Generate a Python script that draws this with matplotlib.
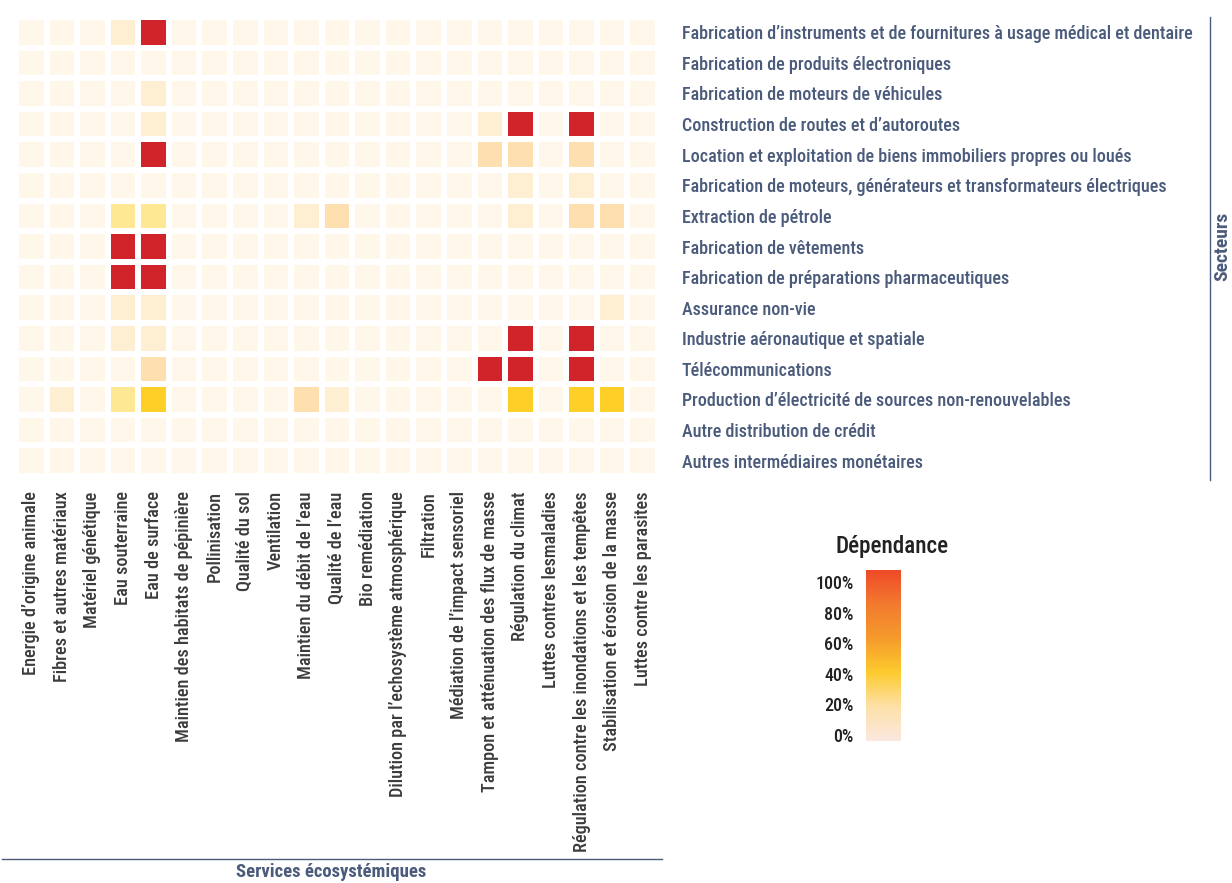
import matplotlib
matplotlib.use('Agg')
import numpy as np
import matplotlib.pyplot as plt
from matplotlib.colors import LinearSegmentedColormap, Normalize
from matplotlib.cm import ScalarMappable
from matplotlib import font_manager

# ============ DATA ============
secteurs = [
    "Fabrication d’instruments et de fournitures à usage médical et dentaire",
    "Fabrication de produits électroniques",
    "Fabrication de moteurs de véhicules",
    "Construction de routes et d’autoroutes",
    "Location et exploitation de biens immobiliers propres ou loués",
    "Fabrication de moteurs, générateurs et transformateurs électriques",
    "Extraction de pétrole",
    "Fabrication de vêtements",
    "Fabrication de préparations pharmaceutiques",
    "Assurance non-vie",
    "Industrie aéronautique et spatiale",
    "Télécommunications",
    "Production d’électricité de sources non-renouvelables",
    "Autre distribution de crédit",
    "Autres intermédiaires monétaires",
]

services = [
    "Energie d’origine animale",
    "Fibres et autres matériaux",
    "Matériel génétique",
    "Eau souterraine",
    "Eau de surface",
    "Maintien des habitats de pépinière",
    "Pollinisation",
    "Qualité du sol",
    "Ventilation",
    "Maintien du débit de l’eau",
    "Qualité de l’eau",
    "Bio remédiation",
    "Dilution par l’echosystème atmosphérique",
    "Filtration",
    "Médiation de l’impact sensoriel",
    "Tampon et atténuation des flux de masse",
    "Régulation du climat",
    "Luttes contres lesmaladies",
    "Régulation contre les inondations et les tempêtes",
    "Stabilisation et érosion de la masse",
    "Luttes contre les parasites",
]

# dependance (0..1), one row per sector, one column per service
dependance = [
    [0, 0, 0, .1, 1, 0, 0, 0, 0, 0, 0, 0, 0, 0, 0, 0, 0, 0, 0, 0, 0],
    [0, 0, 0, 0, 0, 0, 0, 0, 0, 0, 0, 0, 0, 0, 0, 0, 0, 0, 0, 0, 0],
    [0, 0, 0, 0, .1, 0, 0, 0, 0, 0, 0, 0, 0, 0, 0, 0, 0, 0, 0, 0, 0],
    [0, 0, 0, 0, .1, 0, 0, 0, 0, 0, 0, 0, 0, 0, 0, .1, 1, 0, 1, 0, 0],
    [0, 0, 0, 0, 1, 0, 0, 0, 0, 0, 0, 0, 0, 0, 0, .2, .2, 0, .2, 0, 0],
    [0, 0, 0, 0, 0, 0, 0, 0, 0, 0, 0, 0, 0, 0, 0, 0, .1, 0, .1, 0, 0],
    [0, 0, 0, .3, .3, 0, 0, 0, 0, .1, .2, 0, 0, 0, 0, 0, .1, 0, .2, .2, 0],
    [0, 0, 0, 1, 1, 0, 0, 0, 0, 0, 0, 0, 0, 0, 0, 0, 0, 0, 0, 0, 0],
    [0, 0, 0, 1, 1, 0, 0, 0, 0, 0, 0, 0, 0, 0, 0, 0, 0, 0, 0, 0, 0],
    [0, 0, 0, .1, .1, 0, 0, 0, 0, 0, 0, 0, 0, 0, 0, 0, 0, 0, 0, .1, 0],
    [0, 0, 0, .1, .1, 0, 0, 0, 0, 0, 0, 0, 0, 0, 0, 0, 1, 0, 1, 0, 0],
    [0, 0, 0, 0, .2, 0, 0, 0, 0, 0, 0, 0, 0, 0, 0, 1, 1, 0, 1, 0, 0],
    [0, .1, 0, .3, .45, 0, 0, 0, 0, .2, .1, 0, 0, 0, 0, 0, .45, 0, .45, .45, 0],
    [0, 0, 0, 0, 0, 0, 0, 0, 0, 0, 0, 0, 0, 0, 0, 0, 0, 0, 0, 0, 0],
    [0, 0, 0, 0, 0, 0, 0, 0, 0, 0, 0, 0, 0, 0, 0, 0, 0, 0, 0, 0, 0],
]

cbar_ticks = [0, .2, .4, .6, .8, 1.0]
cbar_labels = ['0%', '20%', '40%', '60%', '80%', '100%']

# ============ STYLE ============
# the reference uses a condensed face; take the narrowest one we can find
entries = font_manager.fontManager.ttflist
names = {f.name for f in entries}
STRETCH = 'normal'
FONT = 'DejaVu Sans'
for cand in ['Roboto Condensed', 'Liberation Sans Narrow', 'Open Sans Condensed',
             'DejaVu Sans Condensed']:
    if cand in names:
        FONT = cand
        break
else:
    if any(f.name == 'DejaVu Sans' and f.stretch == 'condensed' for f in entries):
        STRETCH = 'condensed'
plt.rcParams['font.family'] = [FONT, 'DejaVu Sans']
plt.rcParams['font.stretch'] = STRETCH
plt.rcParams['font.weight'] = 'medium'

SLATE = '#4b5b7b'
GREY = '#3c3c3c'

cell_cmap = LinearSegmentedColormap.from_list('cells', [
    (0.0, '#fef7ea'), (0.1, '#feefd3'), (0.2, '#fee0b0'), (0.3, '#fee892'),
    (0.45, '#fed027'), (0.7, '#ee7a2c'), (1.0, '#d1232a')])
bar_cmap = LinearSegmentedColormap.from_list('bar', [
    (0.0, '#fbe8e0'), (0.2, '#fde0a8'), (0.4, '#fdcb2e'),
    (0.6, '#f59a2c'), (0.8, '#f27a2e'), (1.0, '#ee4a28')])

# ============ PLOT ============
W, H = 1232, 883
fig = plt.figure(figsize=(W / 100, H / 100), dpi=100)

ax = fig.add_axes([16 / W, 1 - 476 / H, 642 / W, 459 / H])
data = np.array(dependance)
ax.pcolormesh(data, cmap=cell_cmap, vmin=0, vmax=1,
              edgecolors='white', linewidth=4.2)
ax.set_xlim(0, len(services))
ax.set_ylim(len(secteurs), 0)
for s in ax.spines.values():
    s.set_visible(False)

ax.set_xticks(np.arange(len(services)) + 0.5)
xt = ax.set_xticklabels(services, rotation=90, fontsize=12, color=GREY)
ax.yaxis.tick_right()
ax.set_yticks(np.arange(len(secteurs)) + 0.5)
yt = ax.set_yticklabels(secteurs, fontsize=12.5, color=SLATE)
ax.tick_params(axis='x', length=0, pad=11)
ax.tick_params(axis='y', length=0, pad=17)

# size labels so the longest ones span what they span in the reference
renderer = fig.canvas.get_renderer()
row_w = yt[0].get_window_extent(renderer).width
for t in yt:
    t.set_fontsize(12.5 * 507 / row_w)
col_h = xt[18].get_window_extent(renderer).height
for t in xt:
    t.set_fontsize(12 * 360 / col_h)

# axis titles with their rules
fig.add_artist(plt.Line2D([2 / W, 662 / W], [1 - 859 / H] * 2, color=SLATE, lw=1))
fig.text(331 / W, 1 - 872 / H, 'Services écosystémiques', ha='center', va='center',
         fontsize=13.5, fontweight='bold', color=SLATE)
fig.add_artist(plt.Line2D([1210 / W] * 2, [1 - 17 / H, 1 - 480 / H], color=SLATE, lw=1))
fig.text(1222 / W, 1 - 246 / H, 'Secteurs', ha='center', va='center', rotation=90,
         fontsize=14, fontweight='bold', color=SLATE)

# colour bar
cax = fig.add_axes([866 / W, 1 - 741 / H, 35 / W, 171 / H])
sm = ScalarMappable(norm=Normalize(-0.04, 1.08), cmap=bar_cmap)
cb = fig.colorbar(sm, cax=cax, ticks=cbar_ticks)
cb.outline.set_visible(False)
cax.yaxis.set_ticks_position('left')
cax.set_yticklabels(cbar_labels, fontsize=13, color='#222222')
cax.tick_params(length=0, pad=9)
fig.text(892 / W, 1 - 547 / H, 'Dépendance', ha='center', va='center',
         fontsize=16.7, color='#222222')

plt.savefig('out.png', dpi=100)
